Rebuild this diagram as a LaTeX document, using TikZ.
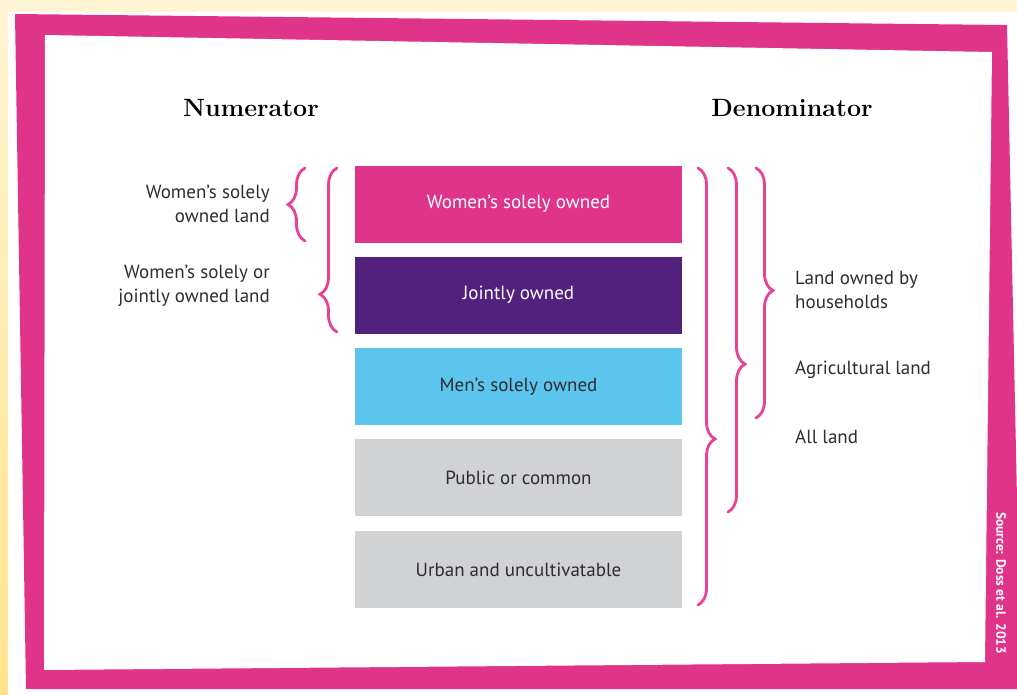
\documentclass[tikz,border=0pt]{standalone}
\usepackage{fontspec}
\newfontfamily\dinfont{PT Sans}
\usetikzlibrary{decorations.pathreplacing}
\definecolor{framepink}{RGB}{224,52,138}
\definecolor{bracepink}{RGB}{231,66,150}
\definecolor{jointpurple}{RGB}{82,33,126}
\definecolor{menblue}{RGB}{91,197,238}
\definecolor{othergray}{RGB}{209,210,211}
\definecolor{cream}{RGB}{255,244,212}
\definecolor{stripyellow}{RGB}{255,228,140}
\definecolor{labeltext}{RGB}{45,45,50}
\begin{document}
\begin{tikzpicture}[x=1pt, y=-1pt,
    every node/.style={font=\dinfont\fontsize{19}{24.5}\selectfont, text=labeltext, inner sep=0pt},
    landbox/.style={minimum width=327pt, minimum height=77pt, fill=#1},
    heading/.style={font=\bfseries\fontsize{25}{30}\selectfont, text=black},
    bracket/.style={draw=bracepink, line width=2.8pt, line cap=round, decorate,
      decoration={brace, amplitude=17pt, aspect=#1}}]
  \useasboundingbox (0,0) rectangle (1017,694);
  % page and frame
  \fill[cream] (0,0) rectangle (1017,694);
  \shade[top color=cream, bottom color=stripyellow] (0,0) rectangle (8,694);
  \fill[white] (8,12) rectangle (1017,694);
  \fill[framepink] (15,14) -- (1007,25) -- (1021,689) -- (26,689) -- cycle;
  \fill[white] (45,35) -- (992,52) -- (985,662) -- (44,670) -- cycle;
  % headings
  \node[heading] (num) at (251,108) {Numerator};
  \node[heading] (den) at (792,108) {Denominator};
  % land categories
  \node[landbox=framepink, text=white] (wso) at (518.5,204) {Women’s solely owned};
  \node[landbox=jointpurple, text=white] (jo) at (518.5,295) {Jointly owned};
  \node[landbox=menblue] (mso) at (518.5,386.5) {Men’s solely owned};
  \node[landbox=othergray] (pc) at (518.5,477.5) {Public or common};
  \node[landbox=othergray] (uu) at (518.5,569.5) {Urban and uncultivatable};
  % numerator labels
  \node[anchor=east, align=right] (wsl) at (270,204) {Women’s solely\\owned land};
  \node[anchor=east, align=right] (wjl) at (270,286) {Women’s solely or\\jointly owned land};
  % denominator labels
  \node[anchor=west, align=left] (hhl) at (795,290) {Land owned by\\households};
  \node[anchor=west] (agl) at (795,370) {Agricultural land};
  \node[anchor=west] (all) at (795,437) {All land};
  % brace ends
  \coordinate (ws top) at (305,168);
  \coordinate (ws bot) at (305,241);
  \coordinate (wj top) at (337,168);
  \coordinate (wj bot) at (337,332);
  \coordinate (all top) at (698,168);
  \coordinate (all bot) at (698,605);
  \coordinate (ag top) at (728,168);
  \coordinate (ag bot) at (728,512);
  \coordinate (hh top) at (756,168);
  \coordinate (hh bot) at (756,418);
  \draw[bracket=0.5] (ws bot) -- (ws top);
  \draw[bracket=0.23] (wj bot) -- (wj top);
  \draw[bracket=0.62] (all top) -- (all bot);
  \draw[bracket=0.57] (ag top) -- (ag bot);
  \draw[bracket=0.49] (hh top) -- (hh bot);
  % source
  \node[rotate=-90, text=white, font=\dinfont\bfseries\fontsize{13.5}{15}\selectfont] (src) at (1001,583) {Source: Doss et al. 2013};
\end{tikzpicture}
\end{document}
